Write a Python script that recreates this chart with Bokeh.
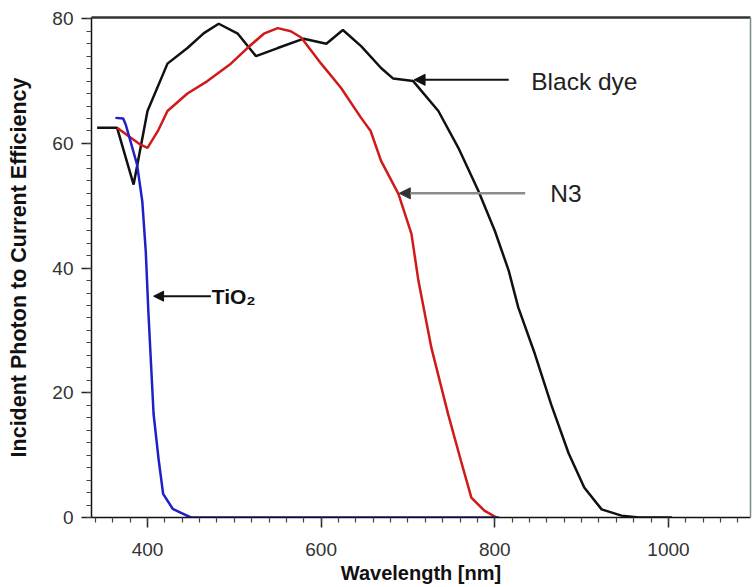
from bokeh.plotting import figure
from bokeh.models import (Range1d, LinearAxis, FixedTicker, SingleIntervalTicker,
                          Arrow, NormalHead, Label)
from bokeh.embed import file_html
from bokeh.resources import INLINE

# ---- data ----
black_x = [342, 365, 384, 400, 423, 446, 465, 482, 504, 525, 550, 580, 606, 625,
           646, 669, 683, 706, 735, 758, 781, 800, 816, 827, 846, 865, 885, 903,
           923, 946, 966, 1004]
black_y = [62.5, 62.5, 53.4, 65.2, 72.8, 75.3, 77.7, 79.2, 77.6, 74.0, 75.3, 76.8,
           76.0, 78.2, 75.6, 72.1, 70.4, 70.0, 65.2, 59.3, 52.4, 46.0, 39.6, 33.7,
           26.3, 18.1, 10.3, 4.8, 1.3, 0.3, 0.0, 0.0]

red_x = [365, 380, 392, 400, 412, 423, 446, 469, 496, 515, 534, 550, 565, 577,
         600, 623, 646, 657, 669, 689, 704, 712, 727, 746, 761, 773, 788, 802]
red_y = [62.5, 61.0, 59.8, 59.3, 62.0, 65.2, 68.0, 70.0, 72.8, 75.3, 77.6, 78.5,
         78.0, 77.0, 72.8, 68.9, 64.1, 62.0, 57.2, 51.9, 45.5, 38.0, 27.2, 16.7,
         9.1, 3.2, 1.1, 0.0]

blue_x = [363, 372, 375, 388, 394, 398, 401, 407, 413, 418, 429, 438, 450, 805]
blue_y = [64.1, 64.0, 63.0, 56.6, 50.7, 42.7, 33.0, 16.6, 9.1, 3.8, 1.4, 0.8, 0.0, 0.0]

x_ticks_interval = 200
y_ticks_interval = 20

FONT = "Liberation Sans"

p = figure(width=754, height=587, output_backend="svg", toolbar_location=None,
           x_range=Range1d(335.5, 1094.5), y_range=Range1d(0, 80.2),
           min_border_left=91, min_border_right=4, min_border_top=17,
           min_border_bottom=70,
           x_axis_label="Wavelength [nm]",
           y_axis_label="Incident Photon to Current Efficiency")

p.background_fill_color = "white"
p.border_fill_color = "white"
p.outline_line_color = None
p.xgrid.visible = False
p.ygrid.visible = False

p.xaxis.ticker = SingleIntervalTicker(interval=x_ticks_interval, num_minor_ticks=10)
p.yaxis.ticker = SingleIntervalTicker(interval=y_ticks_interval, num_minor_ticks=10)

for ax in (p.xaxis[0], p.yaxis[0]):
    ax.axis_line_color = "#111111"
    ax.axis_line_width = 1.5
    ax.major_tick_line_color = "#222222"
    ax.minor_tick_line_color = "#444444"
    ax.major_tick_line_width = 1.5
    ax.minor_tick_line_width = 1.2
    ax.major_tick_out = 10
    ax.major_tick_in = 0
    ax.minor_tick_out = 5
    ax.minor_tick_in = 0
    ax.major_label_text_font = FONT
    ax.major_label_text_font_size = "19px"
    ax.major_label_text_color = "#333333"
    ax.axis_label_text_font = FONT
    ax.axis_label_text_font_style = "bold"
    ax.axis_label_text_color = "#111111"

p.xaxis.axis_label_text_font_size = "20px"
p.yaxis.axis_label_text_font_size = "21.5px"
p.xaxis.major_label_standoff = 15
p.xaxis.axis_label_standoff = 3
p.yaxis.major_label_standoff = 8
p.yaxis.axis_label_standoff = 18

# top and right frame lines
top = LinearAxis(ticker=FixedTicker(ticks=[]), axis_line_width=2.5,
                 axis_line_color="#333333", major_label_text_font_size="0px")
p.add_layout(top, "above")
right = LinearAxis(ticker=FixedTicker(ticks=[]), axis_line_width=1.5,
                   axis_line_color="#7a8a8a", major_label_text_font_size="0px")
p.add_layout(right, "right")

# curves
p.line(black_x, black_y, line_color="#111111", line_width=2.5)
p.line(red_x, red_y, line_color="#d01a1a", line_width=2.5)
p.line(blue_x, blue_y, line_color="#2020c8", line_width=2.5)

# annotations
p.add_layout(Arrow(end=NormalHead(size=11, fill_color="#111111", line_color="#111111"),
                   x_start=816, y_start=70.2, x_end=707, y_end=70.2,
                   line_color="#111111", line_width=2))
p.add_layout(Arrow(end=NormalHead(size=11, fill_color="#333333", line_color="#333333"),
                   x_start=835, y_start=52.0, x_end=690, y_end=52.0,
                   line_color="#8c8c8c", line_width=2.5))
p.add_layout(Arrow(end=NormalHead(size=10, fill_color="#111111", line_color="#111111"),
                   x_start=473, y_start=35.5, x_end=407, y_end=35.5,
                   line_color="#111111", line_width=2))

p.add_layout(Label(x=842, y=70.0, text="Black dye", text_font=FONT,
                   text_font_size="24.5px", text_baseline="middle",
                   text_color="#222222"))
p.add_layout(Label(x=864, y=52.0, text="N3", text_font=FONT,
                   text_font_size="24.5px", text_baseline="middle",
                   text_color="#222222"))
p.add_layout(Label(x=474, y=35.5, text="TiO₂", text_font=FONT,
                   text_font_size="21px", text_font_style="bold",
                   text_baseline="middle", text_color="#111111"))

open("out.html", "w").write(file_html(p, INLINE))
